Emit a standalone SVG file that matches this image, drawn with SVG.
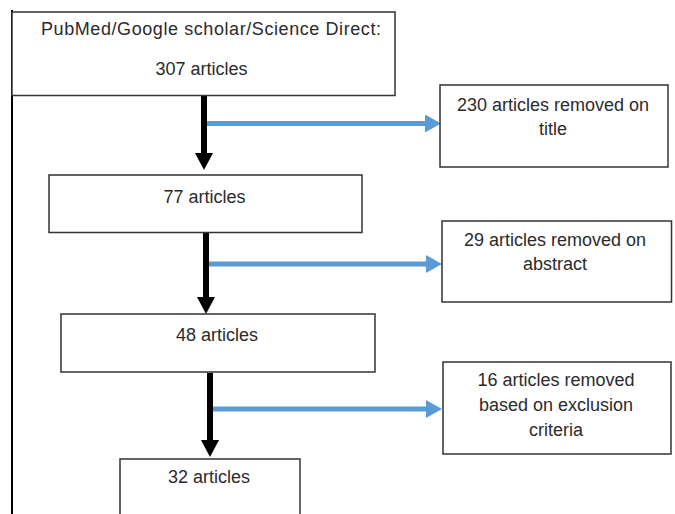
<svg xmlns="http://www.w3.org/2000/svg" width="675" height="514" viewBox="0 0 675 514">
<style>
  .box { fill: #ffffff; stroke: #333333; stroke-width: 1.5; }
  .txt { font-family: "Liberation Sans", Arial, sans-serif; font-size: 18px; fill: #2b2b2b; text-anchor: middle; }
  .down { fill: none; stroke: #000000; stroke-width: 6; }
  .side { fill: none; stroke: #5B9BD5; stroke-width: 5; }
  .frame { stroke: #000000; stroke-width: 2; }
</style>
<defs>
  <marker id="headBlack" markerUnits="userSpaceOnUse" markerWidth="17" markerHeight="18" viewBox="0 0 17 18" refX="0" refY="9" orient="auto">
    <path d="M0,0 L17,9 L0,18 Z" fill="#000000"/>
  </marker>
  <marker id="headBlue" markerUnits="userSpaceOnUse" markerWidth="16" markerHeight="18" viewBox="0 0 16 18" refX="0" refY="9" orient="auto">
    <path d="M0,0 L16,9 L0,18 Z" fill="#5B9BD5"/>
  </marker>
</defs>
<rect width="675" height="514" fill="#ffffff"/>
<line class="frame" x1="12" y1="10" x2="12" y2="514"/>

<g id="connectors">
  <path class="side" d="M204,123.5 L425,123.5" marker-end="url(#headBlue)"/>
  <path class="side" d="M206,264 L426,264" marker-end="url(#headBlue)"/>
  <path class="side" d="M210,409 L426,409" marker-end="url(#headBlue)"/>
  <path class="down" d="M204,96 L204,153" marker-end="url(#headBlack)"/>
  <path class="down" d="M206,233 L206,297" marker-end="url(#headBlack)"/>
  <path class="down" d="M210,373 L210,440" marker-end="url(#headBlack)"/>
</g>

<g id="n307">
  <rect class="box" x="12" y="12" width="383" height="83.5"/>
  <text class="txt" x="211" y="35" textLength="340" lengthAdjust="spacing">PubMed/Google scholar/Science Direct:</text>
  <text class="txt" x="201.5" y="75">307 articles</text>
</g>
<g id="n230">
  <rect class="box" x="440" y="85" width="228" height="82"/>
  <text class="txt" x="553" y="111">230 articles removed on</text>
  <text class="txt" x="553" y="135">title</text>
</g>
<g id="n77">
  <rect class="box" x="49" y="175" width="313" height="57.5"/>
  <text class="txt" x="204.5" y="203">77 articles</text>
</g>
<g id="n29">
  <rect class="box" x="442" y="221" width="229.5" height="81"/>
  <text class="txt" x="555" y="246">29 articles removed on</text>
  <text class="txt" x="555" y="270">abstract</text>
</g>
<g id="n48">
  <rect class="box" x="61" y="314" width="314" height="58"/>
  <text class="txt" x="217" y="341">48 articles</text>
</g>
<g id="n16">
  <rect class="box" x="443" y="362" width="228" height="92"/>
  <text class="txt" x="556" y="386">16 articles removed</text>
  <text class="txt" x="556" y="411">based on exclusion</text>
  <text class="txt" x="556" y="436">criteria</text>
</g>
<g id="n32">
  <rect class="box" x="120" y="459" width="180" height="70"/>
  <text class="txt" x="209" y="483">32 articles</text>
</g>
</svg>
